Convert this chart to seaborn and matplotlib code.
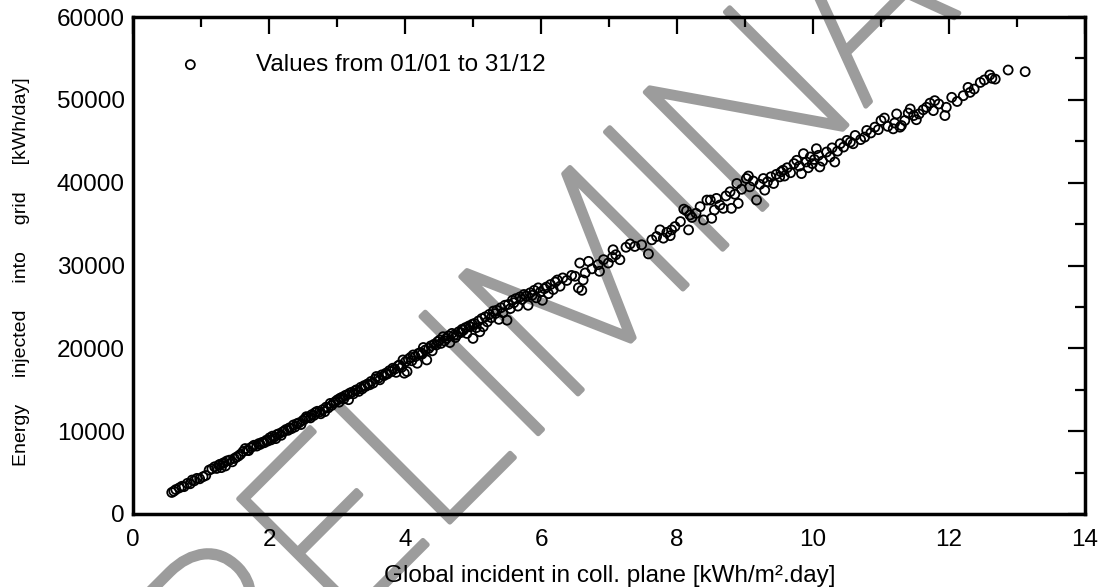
import matplotlib
matplotlib.use("Agg")
import math
import matplotlib.pyplot as plt
import matplotlib.patheffects as pe
from matplotlib.ticker import MultipleLocator
from matplotlib.font_manager import FontProperties
from matplotlib.textpath import TextPath
import seaborn as sns
import pandas as pd

# ---------------- data ----------------
irradiation_a = [0.57, 0.60, 0.63, 0.68, 0.72, 0.75, 0.80, 0.84, 0.87, 0.90,
                 0.94, 0.98, 1.03, 1.07, 1.12, 1.16, 1.20, 1.23, 1.26, 1.28,
                 1.30, 1.32, 1.34, 1.36, 1.38, 1.42, 1.46, 1.49]
energy_a = [2600, 2750, 2950, 3150, 3350, 3300, 3700, 3650, 4100, 4000,
            4300, 4250, 4500, 4650, 5300, 5450, 5700, 5500, 5900, 6000,
            5600, 6100, 6200, 5800, 6400, 6500, 6300, 6700]

irradiation_b = [1.52, 1.55, 1.58, 1.62, 1.65, 1.68, 1.70, 1.73, 1.76, 1.78,
                 1.82, 1.85, 1.87, 1.90, 1.93, 1.96, 1.98, 2.01, 2.03, 2.05,
                 2.08, 2.10, 2.12, 2.15, 2.18, 2.20, 2.22, 2.25, 2.28, 2.30,
                 2.33, 2.36, 2.38, 2.41, 2.44, 2.47, 2.50, 2.53, 2.55, 2.58,
                 2.61, 2.63, 2.66, 2.68, 2.71, 2.74, 2.76, 2.79, 2.82, 2.84,
                 2.87, 2.90, 2.92, 2.95, 2.98]
energy_b = [6850, 7000, 7200, 7550, 7900, 7700, 7650, 8000, 8150, 8300,
            8200, 8500, 8400, 8650, 8600, 8900, 8800, 9200, 8950, 9400,
            9300, 9100, 9600, 9700, 9500, 9900, 10000, 10200, 10100, 10400,
            10300, 10750, 10500, 10900, 11000, 10800, 11300, 11500, 11750, 11700,
            11600, 12000, 11900, 12250, 12400, 12300, 12100, 12600, 12350, 12900,
            12800, 13350, 13100, 13400, 13600]

irradiation_c = [3.01, 3.03, 3.05, 3.08, 3.10, 3.12, 3.15, 3.17, 3.19, 3.22,
                 3.24, 3.27, 3.29, 3.32, 3.35, 3.37, 3.40, 3.42, 3.45, 3.48,
                 3.50, 3.53, 3.56, 3.58, 3.61, 3.63, 3.66, 3.69, 3.72, 3.74,
                 3.77, 3.80, 3.82, 3.85, 3.87, 3.90, 3.92, 3.95, 3.97, 3.99,
                 4.01, 4.03, 4.05, 4.08, 4.10, 4.12, 4.15, 4.18, 4.20, 4.23,
                 4.25, 4.27, 4.30, 4.32, 4.35, 4.38, 4.40, 4.43, 4.46, 4.48]
energy_c = [13800, 13500, 14000, 14100, 13900, 14300, 14400, 13800, 14600, 14700,
            14500, 14900, 15000, 14800, 15300, 15100, 15500, 15400, 15700, 15600,
            16000, 15800, 16300, 16600, 16400, 16200, 16800, 16700, 17000, 16900,
            17300, 17200, 17600, 17500, 17100, 17900, 18000, 17700, 18600, 17000,
            18400, 17200, 18700, 18900, 18500, 19200, 19000, 18200, 19400, 19500,
            19300, 20100, 19800, 18600, 20000, 20300, 19700, 20500, 20400, 20800]

irradiation_d = [4.51, 4.53, 4.56, 4.58, 4.61, 4.64, 4.66, 4.69, 4.72, 4.74,
                 4.76, 4.79, 4.82, 4.84, 4.86, 4.89, 4.91, 4.94, 4.96, 4.99,
                 5.00, 5.02, 5.05, 5.08, 5.10, 5.13, 5.15, 5.18, 5.21, 5.24,
                 5.27, 5.30, 5.33, 5.35, 5.38, 5.41, 5.44, 5.47, 5.50, 5.52,
                 5.55, 5.58, 5.60, 5.63, 5.66, 5.69, 5.72, 5.75, 5.78, 5.81,
                 5.84, 5.87, 5.90, 5.93, 5.96, 5.99]
energy_d = [21000, 20600, 21400, 20900, 21200, 21500, 20700, 21800, 21600, 21300,
            21600, 22000, 21900, 22300, 22200, 22500, 21800, 22700, 22600, 22900,
            21200, 23000, 22500, 23300, 22000, 23600, 22600, 23800, 23200, 24100,
            23700, 24500, 24200, 24600, 23500, 24900, 24300, 25200, 23400, 25300,
            24800, 25800, 25500, 26000, 25100, 26200, 25900, 26500, 26300, 25200,
            26700, 26400, 27000, 26100, 27300, 26800]

irradiation_e = [6.02, 6.05, 6.08, 6.11, 6.14, 6.18, 6.21, 6.24, 6.28, 6.32,
                 6.38, 6.45, 6.50, 6.55, 6.57, 6.60, 6.62, 6.65, 6.70, 6.75,
                 6.84, 6.86, 6.92, 6.99, 7.05, 7.06, 7.10, 7.16, 7.25, 7.31,
                 7.38, 7.48, 7.58, 7.63, 7.70, 7.75, 7.80, 7.85, 7.90, 7.92,
                 7.97]
energy_e = [25800, 27200, 27400, 26600, 27700, 27100, 28000, 28250, 27500, 28500,
            28200, 28800, 28700, 27300, 30300, 27000, 28250, 29100, 30500, 29600,
            30100, 29300, 30700, 30300, 31000, 31900, 31300, 30700, 32200, 32600,
            32300, 32500, 31400, 33100, 33500, 34300, 33300, 34000, 33600, 34300,
            34700]

irradiation_f = [8.05, 8.10, 8.14, 8.17, 8.19, 8.22, 8.28, 8.34, 8.39, 8.44,
                 8.49, 8.51, 8.55, 8.58, 8.63, 8.68, 8.72, 8.78, 8.80, 8.85,
                 8.88, 8.90, 8.95, 9.02, 9.05, 9.07, 9.12, 9.17, 9.22, 9.27,
                 9.29, 9.33, 9.38, 9.42, 9.46, 9.51, 9.53, 9.56, 9.58, 9.62,
                 9.67, 9.72, 9.76, 9.80, 9.83, 9.86, 9.90, 9.93, 9.96, 9.99]
energy_f = [35300, 36800, 36600, 34300, 36100, 35800, 36300, 37100, 35500, 37900,
            37900, 35700, 36700, 38100, 37300, 36900, 38400, 38900, 36900, 38600,
            39900, 37500, 39200, 40500, 40800, 39500, 40200, 37900, 39800, 40500,
            39100, 40100, 40700, 39900, 41000, 40700, 41300, 41500, 40800, 41800,
            41200, 42300, 42700, 42000, 41100, 43500, 42500, 41800, 43100, 42300]

irradiation_g = [10.02, 10.05, 10.08, 10.10, 10.14, 10.20, 10.25, 10.28, 10.32, 10.36,
                 10.40, 10.45, 10.50, 10.55, 10.59, 10.62, 10.70, 10.76, 10.79, 10.85,
                 10.91, 10.96, 11.00, 11.05, 11.10, 11.18, 11.20, 11.23, 11.28, 11.30,
                 11.35, 11.40, 11.43, 11.48, 11.52, 11.56, 11.62, 11.67, 11.72, 11.77,
                 11.79, 11.85, 11.94, 11.96, 12.04, 12.12, 12.21, 12.28, 12.31, 12.37,
                 12.46, 12.52, 12.60, 12.63, 12.68, 12.87, 13.12]
energy_g = [42800, 44100, 43300, 41900, 42600, 43700, 43100, 44200, 42500, 43800,
            44700, 44300, 45100, 44900, 44700, 45700, 45200, 45500, 46300, 46000,
            46700, 46400, 47500, 47800, 46800, 46500, 47200, 48300, 46700, 46900,
            47500, 48400, 48900, 48100, 47600, 48300, 48800, 49100, 49600, 48700,
            49900, 49500, 48100, 49100, 50300, 49800, 50500, 51500, 50900, 51300,
            52100, 52400, 53000, 52600, 52500, 53600, 53400]

x_ticks = [0, 2, 4, 6, 8, 10, 12, 14]
y_ticks = [0, 10000, 20000, 30000, 40000, 50000, 60000]
series_label = "Values from 01/01 to 31/12"
x_title = "Global incident in coll. plane [kWh/m\u00b2.day]"
y_title = "Energy     injected     into     grid     [kWh/day]"
watermark = "PRELIMINARY"

irradiation = (irradiation_a + irradiation_b + irradiation_c + irradiation_d
               + irradiation_e + irradiation_f + irradiation_g)
energy = energy_a + energy_b + energy_c + energy_d + energy_e + energy_f + energy_g
df = pd.DataFrame({"irradiation": irradiation, "energy": energy})

# ---------------- style ----------------
sns.set_theme(style="white")
plt.rcParams["font.family"] = ["Liberation Sans", "DejaVu Sans"]
plt.rcParams["axes.linewidth"] = 2.5
plt.rcParams["axes.edgecolor"] = "black"

W, H = 1103, 587
fig = plt.figure(figsize=(W / 100, H / 100), dpi=100)
fig.patch.set_facecolor("white")
ax = fig.add_axes([133 / W, 73 / H, 952 / W, 497 / H])
ax.set_facecolor("none")

sns.scatterplot(data=df, x="irradiation", y="energy", ax=ax, marker="o", s=42,
                facecolors="none", edgecolor="black", linewidth=1.3,
                label=series_label, zorder=3)

ax.set_xlim(0, 14)
ax.set_ylim(0, 60000)
ax.set_xticks(x_ticks)
ax.set_yticks(y_ticks)
ax.xaxis.set_minor_locator(MultipleLocator(1))
ax.yaxis.set_minor_locator(MultipleLocator(5000))
ax.tick_params(which="both", direction="in", top=True, right=True,
               color="black", width=1.6, labelcolor="black")
ax.tick_params(which="major", length=12.5, labelsize=17.5)
ax.tick_params(which="minor", length=7)
ax.tick_params(axis="x", which="major", pad=10.5)
ax.tick_params(axis="y", which="major", pad=6)
for sp in ax.spines.values():
    sp.set_visible(True)
    sp.set_color("black")
    sp.set_linewidth(2.5)

ax.set_xlabel(x_title, fontsize=17.5, color="black")
ax.set_ylabel(y_title, fontsize=14, color="black")
ax.xaxis.set_label_coords(0.501, -0.1026)
ax.yaxis.set_label_coords(-0.108, 0.487)

leg = ax.legend(loc="center left", bbox_to_anchor=(0.0347, 0.9034), frameon=False,
                fontsize=17.5, handlelength=2, handletextpad=1.7, borderpad=0,
                borderaxespad=0)
for t in leg.get_texts():
    t.set_color("black")

# watermark behind everything, placed so that its first "I" sits where the
# reference shows it
wm_pt = 168
wm_font = FontProperties(family=["Roboto", "Liberation Sans"], weight="light")
prefix = TextPath((0, 0), "PRELI", prop=wm_font, size=wm_pt)
i_right_px = prefix.get_extents().xmax * 100 / 72
s_start = 80 - i_right_px          # along-baseline coordinate of text start (px)
t_base = 972 / math.sqrt(2)        # baseline offset (px)
x0 = (s_start + t_base) / math.sqrt(2)
y0 = (t_base - s_start) / math.sqrt(2)
fig.text(x0 / W, 1 - y0 / H, watermark, rotation=45, rotation_mode="anchor",
         ha="left", va="baseline", fontsize=wm_pt, color="#9c9c9c",
         fontproperties=wm_font, zorder=-1,
         path_effects=[pe.Stroke(linewidth=3.5, foreground="#9c9c9c",
                                 joinstyle="round", capstyle="round"),
                       pe.Normal()])

fig.savefig("out.png", dpi=100, facecolor="white")
